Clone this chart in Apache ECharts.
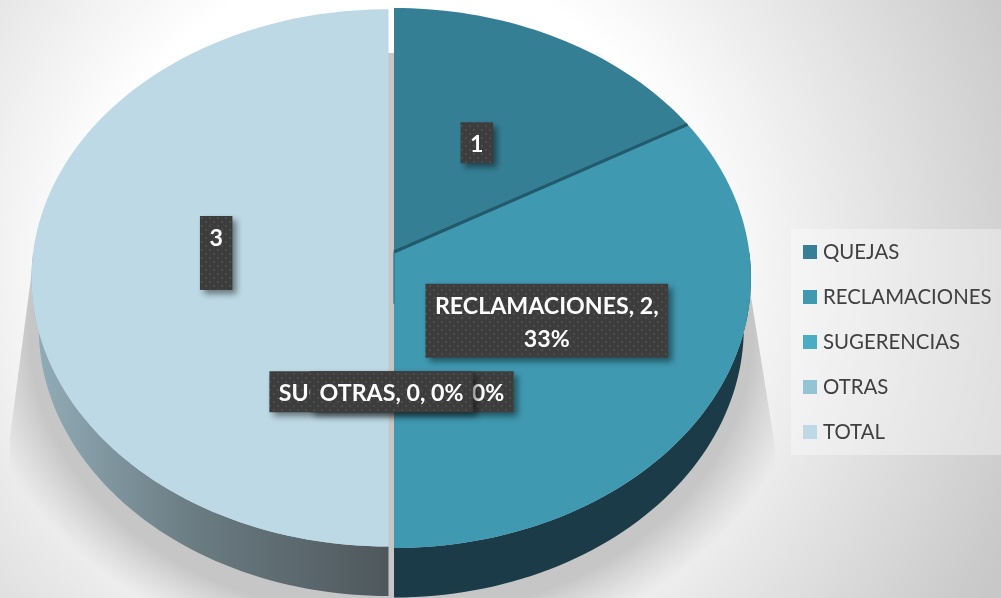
<!DOCTYPE html>
<html>
<head>
<meta charset="utf-8">
<style>
  html, body { margin: 0; padding: 0; }
  #main { width: 1001px; height: 598px; }
</style>
<script src="https://cdn.jsdelivr.net/npm/echarts@6/dist/echarts.min.js"></script>
</head>
<body>
<div id="main"></div>
<script>
  const categories = ['QUEJAS', 'RECLAMACIONES', 'SUGERENCIAS', 'OTRAS', 'TOTAL']
  const values = [1, 2, 0, 0, 3]
  const labelTexts = ['1', 'RECLAMACIONES, 2,\n33%', 'SUGERENCIAS, 0, 0%', 'OTRAS, 0, 0%', '3\n']

  const topColors = ['#357f95', '#3f99b1', '#4bacc6', '#93c3d5', '#bdd9e5']
  const legendColors = ['#367f96', '#3f99b1', '#4bacc6', '#93c3d5', '#bcd9e5']

  // pie is tilted in perspective, so a unit circle goes through this projection
  const centerX = 394
  const centerY = 252
  const radiusX = 355.3
  const radiusY = 267.5
  const tilt = -0.0963
  const wallDepth = 49.5
  const labelFont = 'bold 23.2px Lato'

  const total = values.reduce((sum, v) => sum + v, 0)

  function project (deg, r, offsetX, scaleY) {
    const a = deg * Math.PI / 180
    const u = r * Math.sin(a)
    const v = -r * Math.cos(a)
    const den = 1 + tilt * v
    return [centerX + offsetX + radiusX * u / den, centerY + scaleY * radiusY * v / den]
  }

  function arcPoints (from, to, offsetX, scaleY) {
    const pts = []
    const steps = Math.max(1, Math.ceil((to - from) / 1.5))
    for (let i = 0; i <= steps; i++) {
      pts.push(project(from + (to - from) * i / steps, 1, offsetX, scaleY))
    }
    return pts
  }

  function dotPattern () {
    const c = document.createElement('canvas')
    c.width = 8
    c.height = 8
    const ctx = c.getContext('2d')
    ctx.fillStyle = '#3d3d3d'
    ctx.fillRect(0, 0, 8, 8)
    ctx.fillStyle = '#4c4c4c'
    ctx.fillRect(1, 1, 2, 2)
    ctx.fillRect(5, 5, 2, 2)
    return c
  }
  const pattern = dotPattern()

  const measureCtx = document.createElement('canvas').getContext('2d')
  function textWidth (text) {
    measureCtx.font = labelFont
    return Math.max(...text.split('\n').map(t => measureCtx.measureText(t).width))
  }

  function angleRange (index) {
    let start = 0
    for (let i = 0; i < index; i++) start += values[i] / total * 360
    return [start, start + values[index] / total * 360]
  }

  function wallFill (index) {
    if (index < 4) return '#1a3b47'
    return new echarts.graphic.LinearGradient(31, 0, 388, 0, [
      { offset: 0, color: '#93aeb9' },
      { offset: 0.45, color: '#6b7c83' },
      { offset: 1, color: '#4e585c' }
    ], true)
  }

  function renderSlice (index) {
    return function (params, api) {
      const value = api.value(0)
      const [from, to] = angleRange(index)
      const offsetX = index === 4 ? -5.5 : 0
      const scaleY = index === 4 ? 0.995 : 1
      const children = []

      if (value > 0) {
        const wallFrom = Math.max(from, 90)
        const wallTo = Math.min(to, 270)
        if (wallTo > wallFrom) {
          const upper = arcPoints(wallFrom, wallTo, offsetX, scaleY)
          const mid = centerX + offsetX
          const lower = upper.map(p => [mid + (p[0] - mid) * 0.98, p[1] + wallDepth]).reverse()
          children.push({
            type: 'polygon',
            z2: 1,
            shape: { points: upper.concat(lower) },
            style: { fill: wallFill(index) }
          })
        }
        const apex = project(0, 0, offsetX, scaleY)
        children.push({
          type: 'polygon',
          z2: 2,
          shape: { points: [apex].concat(arcPoints(from, to, offsetX, scaleY)) },
          style: { fill: topColors[index] }
        })
        // thin dark cut face where the first slice is pulled away from the second
        if (index === 1) {
          children.push({
            type: 'polyline',
            z2: 3,
            shape: { points: [project(from, 1, 0, 1), apex] },
            style: { fill: 'none', stroke: '#235a6b', lineWidth: 3 }
          })
          children.push({
            type: 'polyline',
            z2: 3,
            shape: { points: [apex, project(to, 0.19, 0, 1)] },
            style: { fill: 'none', stroke: '#2c7085', lineWidth: 1.2 }
          })
        }
      }

      // data label sits half way along the middle of the slice,
      // the empty slices fall in the gap next to the pulled out half
      const labelOffsetX = value > 0 ? offsetX : -2.5
      const p = project((from + to) / 2, 0.485, labelOffsetX, scaleY)
      const c = [p[0], centerY + (p[1] - centerY) * 1.02 + 1]
      const text = labelTexts[index]
      const lines = text.split('\n').length
      const w = textWidth(text) + 19
      const h = lines * 33 + 8
      children.push({
        type: 'rect',
        z2: 10 + index * 2,
        shape: { x: c[0] - w / 2, y: c[1] - h / 2, width: w, height: h },
        style: {
          fill: { image: pattern, repeat: 'repeat' },
          shadowBlur: 6,
          shadowOffsetX: 4,
          shadowOffsetY: 4,
          shadowColor: 'rgba(0,0,0,0.45)'
        }
      })
      children.push({
        type: 'text',
        z2: 11 + index * 2,
        style: {
          text: text,
          x: c[0],
          y: c[1] + 2,
          align: 'center',
          verticalAlign: 'middle',
          font: labelFont,
          lineHeight: 33,
          fill: '#ffffff'
        }
      })
      return { type: 'group', children: children }
    }
  }

  function renderShadow () {
    return {
      type: 'group',
      clipPath: {
        type: 'polygon',
        shape: {
          points: [[200, 53], [600, 53], [738, 215], [775, 447], [775, 598], [10, 598], [10, 437], [33, 262], [60, 200]]
        }
      },
      children: [{
        type: 'circle',
        z2: 0,
        x: 391,
        y: 333,
        scaleX: 4.2,
        scaleY: 3.3,
        shape: { cx: 0, cy: 0, r: 100 },
        style: {
          fill: new echarts.graphic.RadialGradient(0.5, 0.5, 0.5, [
            { offset: 0, color: 'rgba(198,198,198,1)' },
            { offset: 0.86, color: 'rgba(198,198,198,1)' },
            { offset: 1, color: 'rgba(198,198,198,0)' }
          ])
        }
      }]
    }
  }

  const chart = echarts.init(document.getElementById('main'))
  const series = [{
    type: 'custom',
    coordinateSystem: 'none',
    name: 'sombra',
    silent: true,
    data: [0],
    renderItem: renderShadow
  }].concat(categories.map((name, i) => ({
    type: 'custom',
    coordinateSystem: 'none',
    name: name,
    silent: true,
    data: [values[i]],
    itemStyle: { color: legendColors[i] },
    renderItem: renderSlice(i)
  })))

  chart.setOption({
    animation: false,
    backgroundColor: new echarts.graphic.RadialGradient(390, 260, 680, [
      { offset: 0, color: '#ffffff' },
      { offset: 0.44, color: '#ffffff' },
      { offset: 1, color: '#c8c8c8' }
    ], true),
    legend: {
      data: categories,
      orient: 'vertical',
      left: 791,
      top: 229,
      padding: [13, 10, 13, 12],
      icon: 'rect',
      itemWidth: 14,
      itemHeight: 14,
      itemGap: 25,
      selectedMode: false,
      backgroundColor: 'rgba(255,255,255,0.35)',
      textStyle: { fontFamily: 'Lato', fontSize: 20.4, color: '#404040', padding: [0, 0, 0, 1] }
    },
    series: series
  })
</script>
</body>
</html>
